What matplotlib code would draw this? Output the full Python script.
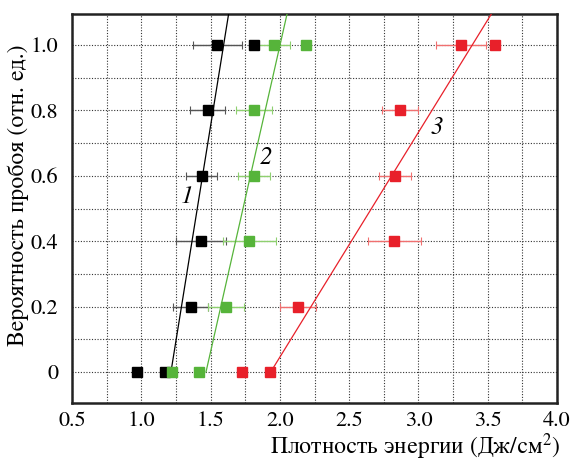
import numpy as np
import matplotlib.pyplot as plt

plt.rcParams['font.family'] = ['STIXGeneral', 'Liberation Serif', 'DejaVu Serif']
plt.rcParams['mathtext.fontset'] = 'stix'

# probability levels
prob = [0.0, 0.0, 0.2, 0.4, 0.6, 0.8, 1.0, 1.0]

# series 1 (black)
x1 = [0.97, 1.17, 1.356, 1.433, 1.436, 1.479, 1.548, 1.815]
e1 = [0, 0, 0.127, 0.18, 0.11, 0.127, 0.177, 0]
# series 2 (green)
x2 = [1.219, 1.416, 1.611, 1.779, 1.813, 1.815, 1.955, 2.186]
e2 = [0, 0, 0.13, 0.19, 0.115, 0.13, 0.12, 0]
# series 3 (red)
x3 = [1.729, 1.931, 2.128, 2.825, 2.83, 2.869, 3.307, 3.554]
e3 = [0, 0, 0.13, 0.19, 0.115, 0.13, 0.177, 0]

# fitted lines: x = x0 + k * p
fit1 = (1.214, 0.380)
fit2 = (1.467, 0.534)
fit3 = (1.934, 1.454)

labels = ['1', '2', '3']
label_pos = [(1.33, 0.536), (1.90, 0.655), (3.133, 0.746)]

colors = ['#000000', '#56b43a', '#e8202a']
err_colors = ['#555555', '#8fd070', '#f07070']

fig = plt.figure(figsize=(5.71, 4.61), dpi=100)
ax = fig.add_axes([0.1261, 0.1258, 0.8494, 0.8438])

p_line = np.array([0.0, 1.2])
for xs, es, fit, c, ec in zip([x1, x2, x3], [e1, e2, e3], [fit1, fit2, fit3], colors, err_colors):
    ax.plot(fit[0] + fit[1] * p_line, p_line, color=c, lw=0.9, zorder=3)
    ax.errorbar(xs, prob, xerr=es, fmt='none', ecolor=ec, elinewidth=1.0,
                capsize=3, capthick=0.8, zorder=2)
    ax.plot(xs, prob, 's', color=c, markersize=7, markeredgecolor=c, zorder=4)

for lab, (lx, ly) in zip(labels, label_pos):
    ax.text(lx, ly, lab, fontsize=18, style='italic', ha='center', va='center')

ax.set_xlim(0.5, 4.0)
ax.set_ylim(-0.095, 1.095)
ax.set_xticks(np.arange(0.5, 4.01, 0.5))
ax.set_xticklabels(['%.1f' % v for v in np.arange(0.5, 4.01, 0.5)])
ax.set_yticks([0, 0.2, 0.4, 0.6, 0.8, 1.0])
ax.set_yticklabels(['0', '0.2', '0.4', '0.6', '0.8', '1.0'])
ax.set_xticks(np.arange(0.75, 4.0, 0.5), minor=True)
ax.set_yticks(np.arange(0.1, 1.0, 0.2), minor=True)
ax.tick_params(which='both', length=0, labelsize=16, pad=6)
ax.tick_params(axis='y', pad=10)
ax.grid(which='both', color='#333333', linestyle=(0, (1, 1.5)), linewidth=0.8)
ax.set_axisbelow(True)
for s in ax.spines.values():
    s.set_linewidth(1.8)
    s.set_color('#222222')

ax.set_xlabel('Плотность энергии (Дж/см$^2$)', fontsize=17, loc='right')
ax.set_ylabel('Вероятность пробоя (отн. ед.)', fontsize=17)
ax.xaxis.set_label_coords(1.006, -0.074)
ax.yaxis.set_label_coords(-0.088, 0.534)

fig.savefig('out.png', dpi=100)
